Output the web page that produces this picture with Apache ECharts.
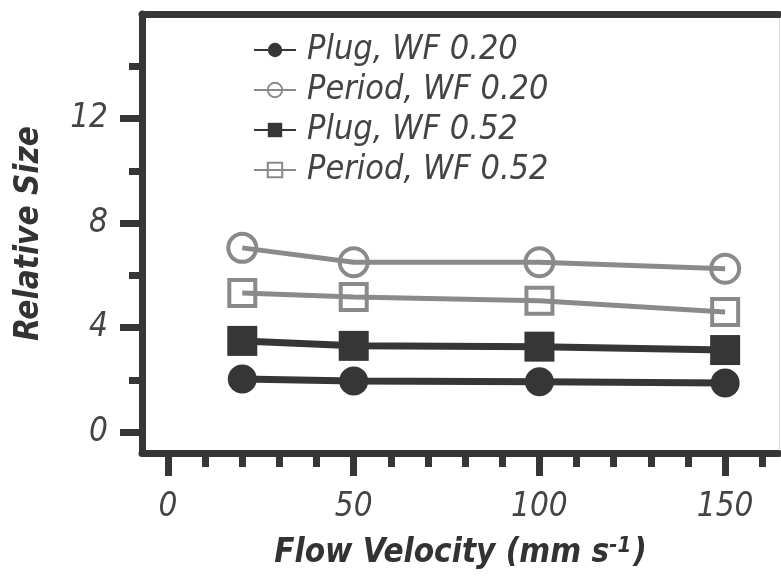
<!DOCTYPE html>
<html>
<head>
<meta charset="utf-8">
<script src="https://cdn.jsdelivr.net/npm/echarts@6/dist/echarts.min.js"></script>
<style>html,body{margin:0;padding:0;background:#fff}#c{width:781px;height:578px}</style>
</head>
<body>
<div id="c"></div>
<script>
const velocities = [20, 50, 100, 150];
const plugWF020 = [2.03, 1.96, 1.93, 1.88];
const periodWF020 = [7.05, 6.5, 6.5, 6.25];
const plugWF052 = [3.49, 3.3, 3.27, 3.14];
const periodWF052 = [5.32, 5.17, 5.03, 4.6];
const seriesNames = ['Plug, WF 0.20', 'Period, WF 0.20', 'Plug, WF 0.52', 'Period, WF 0.52'];
const xMajorTicks = [0, 50, 100, 150];
const xMinorTicks = [10, 20, 30, 40, 60, 70, 80, 90, 110, 120, 130, 140, 160];
const yMajorTicks = [0, 4, 8, 12];
const yMinorTicks = [2, 6, 10, 14];

const FONT = "'Liberation Sans Narrow', 'DejaVu Sans Condensed', sans-serif";
const DARK = '#363636';
const GRAY = '#8a8a8a';
const pairs = v => velocities.map((x, i) => [x, v[i]]);

const chart = echarts.init(document.getElementById('c'));
const hidden = {show: false};
chart.setOption({
  animation: false,
  grid: {left: 142, right: 2, top: 14, bottom: 125, containLabel: false},
  legend: {
    orient: 'vertical', left: 248, top: 28, itemGap: 6,
    itemWidth: 42, itemHeight: 18,
    textStyle: {fontFamily: FONT, fontStyle: 'italic', fontSize: 34, color: '#444', lineHeight: 34, padding: [0, 0, 0, 6]},
    data: seriesNames
  },
  xAxis: [
    {type: 'value', min: -7, max: 164.5, position: 'bottom',
     axisLine: {show: true, onZero: false, lineStyle: {color: DARK, width: 7}},
     axisTick: {show: true, customValues: xMajorTicks, length: 23, lineStyle: {color: DARK, width: 7}},
     axisLabel: {show: true, customValues: xMajorTicks, margin: 38, fontFamily: FONT, fontStyle: 'italic', fontSize: 33, color: '#444'},
     splitLine: hidden,
     name: 'Flow Velocity (mm s{sup|-1})', nameLocation: 'middle', nameGap: 82,
     nameTextStyle: {fontFamily: FONT, fontStyle: 'italic', fontWeight: 'bold', fontSize: 33, color: '#333',
       rich: {sup: {fontFamily: FONT, fontStyle: 'italic', fontWeight: 'bold', fontSize: 22, color: '#333', verticalAlign: 'top', padding: [0, 2, 14, 0]}}}
    },
    {type: 'value', min: -7, max: 164.5, position: 'bottom',
     axisLine: {show: false, onZero: false},
     axisTick: {show: true, customValues: xMinorTicks, length: 14, lineStyle: {color: DARK, width: 7}},
     axisLabel: hidden, splitLine: hidden},
    {type: 'value', min: -7, max: 164.5, position: 'top',
     axisLine: {show: true, onZero: false, lineStyle: {color: DARK, width: 7}},
     axisTick: hidden, axisLabel: hidden, splitLine: hidden}
  ],
  yAxis: [
    {type: 'value', min: -0.8, max: 16, position: 'left',
     axisLine: {show: true, onZero: false, lineStyle: {color: DARK, width: 7}},
     axisTick: {show: true, customValues: yMajorTicks, length: 22, lineStyle: {color: DARK, width: 7}},
     axisLabel: {show: true, customValues: yMajorTicks, margin: 34, fontFamily: FONT, fontStyle: 'italic', fontSize: 33, color: '#444'},
     splitLine: hidden,
     name: 'Relative Size', nameLocation: 'middle', nameGap: 96,
     nameTextStyle: {fontFamily: FONT, fontStyle: 'italic', fontWeight: 'bold', fontSize: 33, color: '#333'}
    },
    {type: 'value', min: -0.8, max: 16, position: 'left',
     axisLine: {show: false, onZero: false},
     axisTick: {show: true, customValues: yMinorTicks, length: 13, lineStyle: {color: DARK, width: 7}},
     axisLabel: hidden, splitLine: hidden},
    {type: 'value', min: -0.8, max: 16, position: 'right',
     axisLine: {show: true, onZero: false, lineStyle: {color: '#cfcfcf', width: 1, type: 'dotted'}},
     axisTick: hidden, axisLabel: hidden, splitLine: hidden}
  ],
  series: [
    {name: seriesNames[0], type: 'line', data: pairs(plugWF020), symbol: 'circle', symbolSize: 29,
     lineStyle: {color: DARK, width: 7}, itemStyle: {color: DARK}},
    {name: seriesNames[1], type: 'line', data: pairs(periodWF020), symbol: 'circle', symbolSize: 28,
     lineStyle: {color: GRAY, width: 5}, itemStyle: {color: 'rgba(255,255,255,0)', borderColor: GRAY, borderWidth: 4}},
    {name: seriesNames[2], type: 'line', data: pairs(plugWF052), symbol: 'rect', symbolSize: 30,
     lineStyle: {color: DARK, width: 7}, itemStyle: {color: DARK}},
    {name: seriesNames[3], type: 'line', data: pairs(periodWF052), symbol: 'rect', symbolSize: 26,
     lineStyle: {color: GRAY, width: 5}, itemStyle: {color: 'rgba(255,255,255,0)', borderColor: GRAY, borderWidth: 4}}
  ]
});
</script>
</body>
</html>
